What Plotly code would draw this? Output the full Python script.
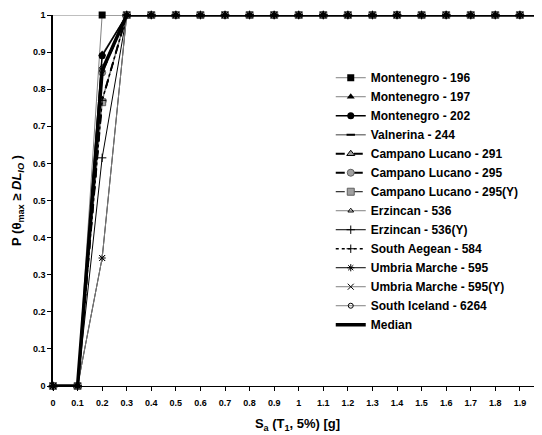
import plotly.graph_objects as go

x_vals = [round(0.1 * i, 1) for i in range(21)]
names = ["Montenegro - 196", "Montenegro - 197", "Montenegro - 202", "Valnerina - 244",
         "Campano Lucano - 291", "Campano Lucano - 295", "Campano Lucano - 295(Y)",
         "Erzincan - 536", "Erzincan - 536(Y)", "South Aegean - 584",
         "Umbria Marche - 595", "Umbria Marche - 595(Y)", "South Iceland - 6264", "Median"]
# probability at Sa = 0.2 g (all are 0 at 0 and 0.1 g, 1 from 0.3 g on)
p_at_02 = [1.0, 0.895, 0.89, 0.77, 0.77, 0.845, 0.765, 0.86, 0.615, 0.77, 0.345, 0.345, 0.85, 0.85]

def series(p):
    return [0, 0, p] + [1] * 18

styles = [
    dict(line=dict(color="#808080", width=1), marker=dict(symbol="square", color="black", size=7)),
    dict(line=dict(color="#808080", width=1), marker=dict(symbol="triangle-up", color="black", size=7)),
    dict(line=dict(color="black", width=1.5), marker=dict(symbol="circle", color="black", size=7)),
    dict(line=dict(color="#808080", width=1.5), marker=dict(symbol="line-ew", color="black", size=6, line=dict(color="black", width=2))),
    dict(line=dict(color="black", width=2, dash="dash"), marker=dict(symbol="triangle-up", color="#a0a0a0", size=7, line=dict(color="black", width=1))),
    dict(line=dict(color="black", width=2, dash="dash"), marker=dict(symbol="circle", color="#a0a0a0", size=7, line=dict(color="#606060", width=1))),
    dict(line=dict(color="black", width=1, dash="dash"), marker=dict(symbol="square", color="#a0a0a0", size=7, line=dict(color="#606060", width=1))),
    dict(line=dict(color="#808080", width=1), marker=dict(symbol="triangle-up-open", color="black", size=5)),
    dict(line=dict(color="black", width=1), marker=dict(symbol="cross-thin-open", color="black", size=6, line=dict(color="black", width=1))),
    dict(line=dict(color="black", width=1.5, dash="dot"), marker=dict(symbol="cross-thin-open", color="black", size=6, line=dict(color="black", width=1))),
    dict(line=dict(color="black", width=1), marker=dict(symbol="asterisk-open", color="black", size=6, line=dict(color="black", width=1))),
    dict(line=dict(color="#808080", width=1), marker=dict(symbol="x-thin-open", color="black", size=6, line=dict(color="black", width=1))),
    dict(line=dict(color="#808080", width=1), marker=dict(symbol="circle-open", color="black", size=5)),
    dict(line=dict(color="black", width=3.5), marker=None),
]

fig = go.Figure()
for name, p, st in zip(names, p_at_02, styles):
    mode = "lines+markers" if st["marker"] is not None else "lines"
    kw = dict(x=x_vals, y=series(p), name=name, mode=mode, line=st["line"], cliponaxis=False)
    if st["marker"] is not None:
        kw["marker"] = st["marker"]
    fig.add_trace(go.Scatter(**kw))

fig.add_shape(type="line", xref="paper", yref="y", x0=0, x1=1, y0=1, y1=1,
              line=dict(color="#808080", width=1), layer="below")

font = "Liberation Sans, Arial, sans-serif"
fig.update_layout(
    width=534, height=427,
    margin=dict(l=45, r=0, t=7, b=49),
    plot_bgcolor="white", paper_bgcolor="white",
    font=dict(family=font, color="black"),
    showlegend=True,
    legend=dict(x=0.568, y=0.87, xanchor="left", yanchor="top",
                font=dict(family=font, size=12, color="black", weight="bold"),
                bgcolor="rgba(0,0,0,0)", tracegroupgap=0, itemwidth=30),
    xaxis=dict(range=[0, 1.99], tickvals=x_vals[:20],
               ticktext=[("%g" % v) for v in x_vals[:20]], automargin=False,
               showgrid=False, zeroline=False, showline=True, linecolor="black", linewidth=1,
               ticks="outside", ticklen=4, tickcolor="black", ticklabelstandoff=4,
               tickfont=dict(family=font, size=9, color="black", weight="bold"),
               title=dict(text="S<sub>a</sub> (T<sub>1</sub>, 5%) [g]", standoff=12,
                          font=dict(family=font, size=13, color="black", weight="bold"))),
    yaxis=dict(range=[0, 1], tickvals=[round(0.1 * i, 1) for i in range(11)],
               ticktext=["0", "0.1", "0.2", "0.3", "0.4", "0.5", "0.6", "0.7", "0.8", "0.9", "1"],
               automargin=False,
               showgrid=False, zeroline=False, showline=True, linecolor="black", linewidth=1.5,
               ticks="outside", ticklen=4, tickcolor="black",
               tickfont=dict(family=font, size=9, color="black", weight="bold"),
               title=dict(text="P (θ<sub>max</sub> ≥ <i>DL<sub>IO</sub></i> )", standoff=8,
                          font=dict(family=font, size=13, color="black", weight="bold"))),
)

fig.write_html("out.html")
